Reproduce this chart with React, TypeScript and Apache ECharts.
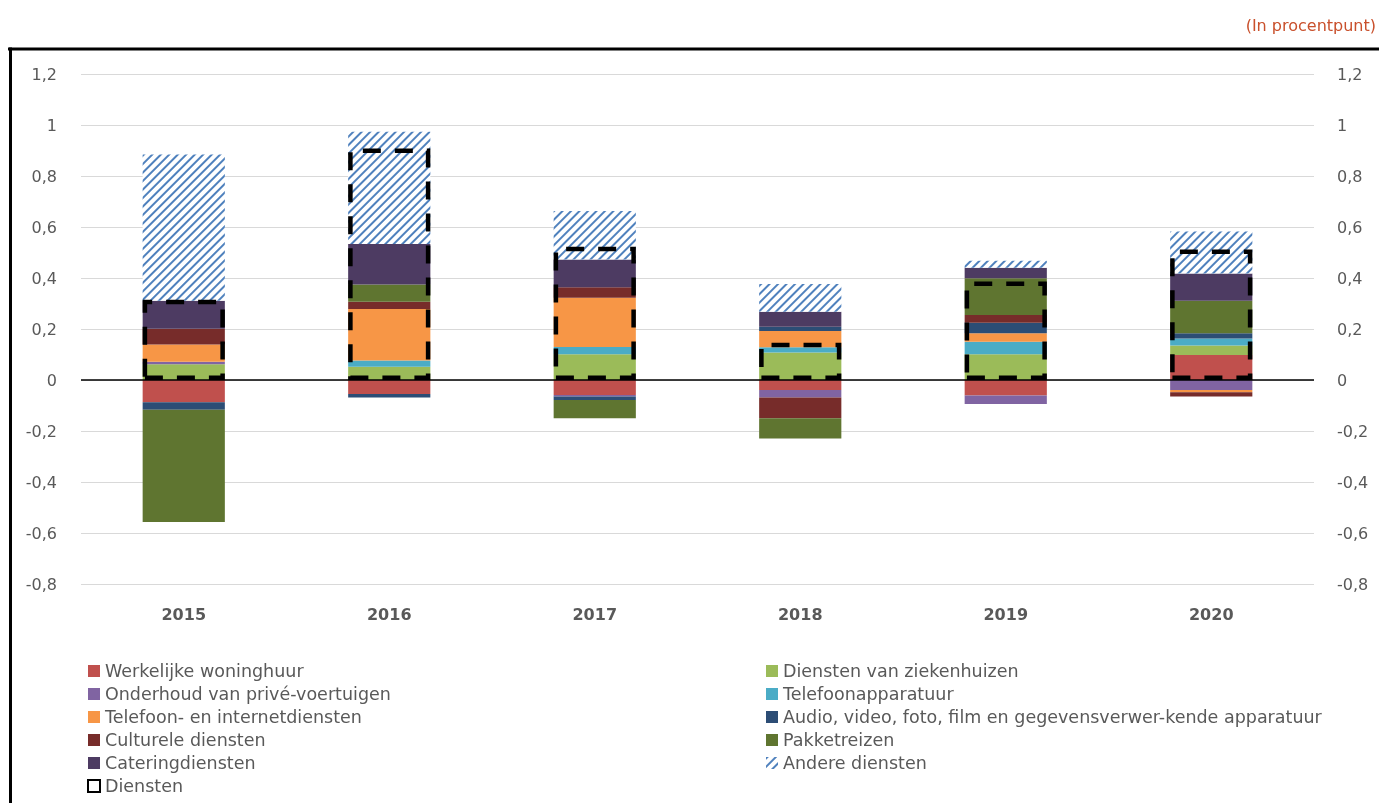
import React, { useEffect, useRef } from "react";
import * as echarts from "echarts";

const categories = ["2015", "2016", "2017", "2018", "2019", "2020"];
const woninghuur = [-0.087, -0.055, -0.059, -0.039, -0.061, 0.098];
const ziekenhuizen = [0.062, 0.052, 0.101, 0.108, 0.101, 0.037];
const onderhoud = [0.01, 0, -0.006, -0.03, -0.033, -0.039];
const telefoonapparatuur = [0, 0.024, 0.028, 0.02, 0.049, 0.028];
const telefoonInternet = [0.067, 0.202, 0.194, 0.064, 0.033, -0.009];
const audio = [-0.03, -0.014, -0.013, 0.017, 0.042, 0.02];
const culturele = [0.062, 0.029, 0.041, -0.081, 0.03, -0.017];
const pakketreizen = [-0.44, 0.068, -0.072, -0.079, 0.144, 0.128];
const catering = [0.11, 0.158, 0.109, 0.059, 0.041, 0.107];
const andere = [0.573, 0.441, 0.19, 0.108, 0.028, 0.164];
const diensten = [0.315, 0.908, 0.523, 0.146, 0.386, 0.512];

const FONT = "DejaVu Sans";
const GREY = "#595959";

const stacked = [
  { name: "Werkelijke woninghuur", data: woninghuur, color: "#C0504D" },
  { name: "Diensten van ziekenhuizen", data: ziekenhuizen, color: "#9BBB59" },
  { name: "Onderhoud van privé-voertuigen", data: onderhoud, color: "#8064A2" },
  { name: "Telefoonapparatuur", data: telefoonapparatuur, color: "#4BACC6" },
  { name: "Telefoon- en internetdiensten", data: telefoonInternet, color: "#F79646" },
  { name: "Audio, video, foto, film en gegevensverwer-kende apparatuur", data: audio, color: "#2C4D75" },
  { name: "Culturele diensten", data: culturele, color: "#772C2A" },
  { name: "Pakketreizen", data: pakketreizen, color: "#5F7530" },
  { name: "Cateringdiensten", data: catering, color: "#4D3B62" },
  { name: "Andere diensten", data: andere, color: "pattern" },
];

const fmt = (v: number) => (Math.round(v * 10) / 10).toString().replace(".", ",");

export default function App() {
  const ref = useRef<HTMLDivElement>(null);
  useEffect(() => {
    if (!ref.current) return;
    const chart = echarts.init(ref.current, null, { renderer: "svg" });
    const series: any[] = stacked.map((s, i) => {
      const itemStyle: any =
        s.color === "pattern"
          ? {
              color: "#ffffff",
              decal: {
                symbol: "rect",
                symbolSize: 1,
                color: "#4F81BD",
                dashArrayX: [1, 0],
                dashArrayY: [2, 3.5],
                rotation: -Math.PI / 4,
              },
            }
          : { color: s.color };
      const o: any = {
        name: s.name,
        type: "bar",
        stack: "total",
        barWidth: "40%",
        data: s.data,
        itemStyle,
      };
      if (i === 0) {
        o.markLine = {
          silent: true,
          symbol: "none",
          label: { show: false },
          lineStyle: { color: "#000", width: 1.5, type: "solid" },
          data: [{ yAxis: 0 }],
          z: 5,
        };
      }
      return o;
    });
    series.push({
      name: "Diensten",
      type: "bar",
      xAxisIndex: 1,
      barWidth: "40%",
      data: diensten,
      z: 10,
      itemStyle: {
        color: "rgba(0,0,0,0)",
        borderColor: "#000",
        borderWidth: 4.5,
        borderType: [18, 14],
      },
    });
    const legendText = { fontFamily: FONT, fontSize: 17.5, color: GREY, lineHeight: 20 };
    chart.setOption({
      animation: false,
      textStyle: { fontFamily: FONT },
      grid: { left: 81, right: 65, top: 74, bottom: 219, containLabel: false },
      graphic: [
        { type: "line", shape: { x1: 8, y1: 49, x2: 1379, y2: 49 }, style: { stroke: "#000", lineWidth: 3 } },
        { type: "line", shape: { x1: 10.5, y1: 47.5, x2: 10.5, y2: 803 }, style: { stroke: "#000", lineWidth: 3 } },
        {
          type: "text",
          right: 3,
          top: 17,
          style: { text: "(In procentpunt)", fontFamily: FONT, fontSize: 16, fill: "#C9502C" },
        },
      ],
      legend: [
        {
          orient: "vertical",
          left: 87,
          top: 661,
          padding: 0,
          height: 142,
          itemWidth: 12,
          itemHeight: 12,
          itemGap: 3,
          icon: "rect",
          textStyle: legendText,
          data: [
            "Werkelijke woninghuur",
            "Onderhoud van privé-voertuigen",
            "Telefoon- en internetdiensten",
            "Culturele diensten",
            "Cateringdiensten",
            "Diensten",
          ],
        },
        {
          orient: "vertical",
          left: 766,
          top: 661,
          padding: 0,
          itemWidth: 12,
          itemHeight: 12,
          itemGap: 3,
          icon: "rect",
          textStyle: legendText,
          data: [
            "Diensten van ziekenhuizen",
            "Telefoonapparatuur",
            "Audio, video, foto, film en gegevensverwer-kende apparatuur",
            "Pakketreizen",
            "Andere diensten",
          ],
        },
      ],
      xAxis: [
        {
          type: "category",
          data: categories,
          position: "bottom",
          axisLine: { show: false, onZero: false },
          axisTick: { show: false },
          axisLabel: { fontFamily: FONT, fontSize: 16, fontWeight: "bold", color: GREY, margin: 22 },
        },
        { type: "category", data: categories, show: false },
      ],
      yAxis: [
        {
          type: "value",
          min: -0.8,
          max: 1.2,
          interval: 0.2,
          position: "left",
          axisLine: { show: false },
          axisTick: { show: false },
          splitLine: { lineStyle: { color: "#D9D9D9", width: 1 } },
          axisLabel: { fontFamily: FONT, fontSize: 16, color: GREY, margin: 24, formatter: fmt },
        },
        {
          type: "value",
          min: -0.8,
          max: 1.2,
          interval: 0.2,
          position: "right",
          axisLine: { show: false },
          axisTick: { show: false },
          splitLine: { show: false },
          axisLabel: { fontFamily: FONT, fontSize: 16, color: GREY, margin: 23, formatter: fmt },
        },
      ],
      series,
    });
    return () => chart.dispose();
  }, []);
  return <div ref={ref} style={{ position: "fixed", left: 0, top: 0, width: 1379, height: 803 }} />;
}
